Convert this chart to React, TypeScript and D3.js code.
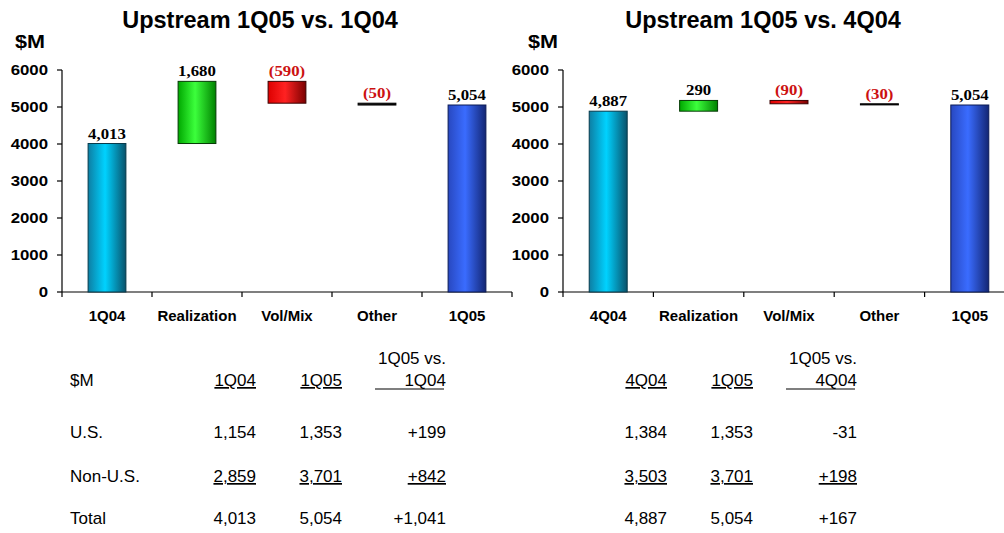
import React from "react";
import * as d3 from "d3";

// ---------- data ----------
const leftTitle = "Upstream 1Q05 vs. 1Q04";
const rightTitle = "Upstream 1Q05 vs. 4Q04";
const leftCategories = ["1Q04", "Realization", "Vol/Mix", "Other", "1Q05"];
const rightCategories = ["4Q04", "Realization", "Vol/Mix", "Other", "1Q05"];
const leftValues = [4013, 1680, -590, -50, 5054];
const rightValues = [4887, 290, -90, -30, 5054];
const leftLabels = ["4,013", "1,680", "(590)", "(50)", "5,054"];
const rightLabels = ["4,887", "290", "(90)", "(30)", "5,054"];
const barKinds = ["start", "up", "down", "other", "end"];
const yTicks = [0, 1000, 2000, 3000, 4000, 5000, 6000];

const rowLabels = ["U.S.", "Non-U.S.", "Total"];
const leftColHeads = ["1Q04", "1Q05"];
const leftCompareHead = ["1Q05 vs.", "1Q04"];
const left1Q04 = ["1,154", "2,859", "4,013"];
const left1Q05 = ["1,353", "3,701", "5,054"];
const leftDelta = ["+199", "+842", "+1,041"];
const rightColHeads = ["4Q04", "1Q05"];
const rightCompareHead = ["1Q05 vs.", "4Q04"];
const right4Q04 = ["1,384", "3,503", "4,887"];
const right1Q05 = ["1,353", "3,701", "5,054"];
const rightDelta = ["-31", "+198", "+167"];

const SANS = "'Liberation Sans', Arial, sans-serif";
const SERIF = "'Liberation Serif', 'Times New Roman', serif";

const gradients: Record<string, { stops: [number, string][]; stroke: string }> = {
  start: { stops: [[0, "#0d7ea3"], [0.45, "#00d2ff"], [1, "#09526b"]], stroke: "#06394a" },
  up: { stops: [[0, "#00a800"], [0.45, "#3cff3c"], [1, "#008200"]], stroke: "#063a06" },
  down: { stops: [[0, "#dd0000"], [0.45, "#ff2222"], [1, "#7a0000"]], stroke: "#3a0000" },
  other: { stops: [[0, "#222"], [1, "#000"]], stroke: "#000" },
  end: { stops: [[0, "#2848c0"], [0.45, "#3a6cff"], [1, "#132674"]], stroke: "#0b1a55" },
};

function T(props: any) {
  const { x, y, sx = 1, anchor = "middle", size, weight = "normal", family = SANS, fill = "#000", style, children } = props;
  return (
    <text
      transform={`translate(${x},${y}) scale(${sx},1)`}
      textAnchor={anchor}
      fontSize={size}
      fontWeight={weight}
      fontFamily={family}
      fill={fill}
      style={style}
    >
      {children}
    </text>
  );
}

function Waterfall(props: any) {
  const { id, title, titleX, categories, values, labels, x0, x1, yLabelX } = props;
  const yTop = 70, yBot = 292;
  const y = d3.scaleLinear().domain([0, 6000]).range([yBot, yTop]);
  const pi = 0.58;
  const x = d3.scaleBand<string>().domain(categories).range([x0, x1]).paddingInner(pi).paddingOuter(pi / 2);
  const step = x.step();
  const bw = x.bandwidth();

  let cum = 0;
  const bars = values.map((v: number, i: number) => {
    const kind = barKinds[i];
    let a = 0, b = 0;
    if (kind === "start" || kind === "end") { a = 0; b = v; cum = v; }
    else { a = cum; b = cum + v; cum = b; }
    return { cat: categories[i], kind, lo: Math.min(a, b), hi: Math.max(a, b), top: Math.max(a, b), label: labels[i], neg: v < 0 };
  });

  const boundaries = categories.map((c: string) => (x(c) as number) + bw / 2 - step / 2).concat([(x(categories[categories.length - 1]) as number) + bw / 2 + step / 2]);

  return (
    <g>
      <defs>
        {Object.keys(gradients).map((k) => (
          <linearGradient key={k} id={`${id}-${k}`} x1="0" x2="1" y1="0" y2="0">
            {gradients[k].stops.map(([o, c], j) => (
              <stop key={j} offset={o} stopColor={c} />
            ))}
          </linearGradient>
        ))}
      </defs>
      <T x={titleX} y={28} size={23.5} weight="bold">{title}</T>
      <T x={yLabelX} y={48} size={18} weight="bold" anchor="start" sx={1.2}>$M</T>
      {/* y axis */}
      <line x1={x0} x2={x0} y1={y(6000)} y2={y(0)} stroke="#000" strokeWidth={1.2} />
      {yTicks.map((t) => (
        <g key={t}>
          <line x1={x0 - 5} x2={x0} y1={y(t)} y2={y(t)} stroke="#000" strokeWidth={1.2} />
          <T x={x0 - 14} y={y(t) + 5} size={14} weight="bold" anchor="end" sx={1.2}>{String(t)}</T>
        </g>
      ))}
      {/* x axis */}
      <line x1={x0} x2={x1} y1={y(0)} y2={y(0)} stroke="#000" strokeWidth={1.2} />
      {boundaries.map((bx: number, i: number) => (
        <line key={i} x1={bx} x2={bx} y1={y(0)} y2={y(0) + 5} stroke="#000" strokeWidth={1.2} />
      ))}
      {categories.map((c: string) => (
        <T key={c} x={(x(c) as number) + bw / 2} y={321} size={15} weight="bold">{c}</T>
      ))}
      {/* bars */}
      {bars.map((b: any, i: number) => (
        <g key={i}>
          <rect
            x={x(b.cat)}
            width={bw}
            y={y(b.hi)}
            height={Math.max(1, y(b.lo) - y(b.hi))}
            fill={`url(#${id}-${b.kind})`}
            stroke={gradients[b.kind].stroke}
            strokeWidth={1}
          />
          <T
            x={(x(b.cat) as number) + bw / 2}
            y={y(b.top) - 5}
            size={14}
            weight="bold"
            family={SERIF}
            sx={1.2}
            fill={b.neg ? "#cc1111" : "#000"}
          >
            {b.label}
          </T>
        </g>
      ))}
    </g>
  );
}

function Table(props: any) {
  const { showRowLabels, labelX, colRights, heads, compareHead, cols, ruleLeft } = props;
  const rowY = [438, 482, 524];
  const headY = 386;
  const fs = 17;
  const ul = { textDecoration: "underline", textDecorationThickness: "2px" } as any;
  const ulThin = { textDecoration: "underline", textDecorationThickness: "1.5px" } as any;
  return (
    <g>
      {showRowLabels && <T x={labelX} y={headY} size={fs} anchor="start">$M</T>}
      {heads.map((h: string, i: number) => (
        <T key={i} x={colRights[i]} y={headY} size={fs} anchor="end" style={ul}>{h}</T>
      ))}
      <T x={colRights[2]} y={364} size={fs} anchor="end">{compareHead[0]}</T>
      <T x={colRights[2]} y={headY} size={fs} anchor="end">{compareHead[1]}</T>
      <line x1={ruleLeft} x2={colRights[2] - 2} y1={headY + 3} y2={headY + 3} stroke="#000" strokeWidth={1.2} />
      {rowLabels.map((r: string, ri: number) => (
        <g key={r}>
          {showRowLabels && <T x={labelX} y={rowY[ri]} size={fs} anchor="start">{r}</T>}
          {cols.map((col: string[], ci: number) => (
            <T key={ci} x={colRights[ci]} y={rowY[ri]} size={fs} anchor="end" style={ri === 1 ? ulThin : undefined}>
              {col[ri]}
            </T>
          ))}
        </g>
      ))}
    </g>
  );
}

export default function App() {
  return (
    <svg width={1004} height={533} style={{ position: "absolute", left: 0, top: 0, display: "block", background: "#fff" }}>
      <rect width={1004} height={533} fill="#fff" />
      <Waterfall id="l" title={leftTitle} titleX={260} categories={leftCategories} values={leftValues} labels={leftLabels} x0={62} x1={512} yLabelX={15} />
      <Waterfall id="r" title={rightTitle} titleX={763} categories={rightCategories} values={rightValues} labels={rightLabels} x0={563} x1={1015} yLabelX={528} />
      <Table showRowLabels labelX={70} colRights={[256, 342, 446]} heads={leftColHeads} compareHead={leftCompareHead} cols={[left1Q04, left1Q05, leftDelta]} ruleLeft={375} />
      <Table showRowLabels={false} labelX={0} colRights={[667, 753, 857]} heads={rightColHeads} compareHead={rightCompareHead} cols={[right4Q04, right1Q05, rightDelta]} ruleLeft={786} />
    </svg>
  );
}
